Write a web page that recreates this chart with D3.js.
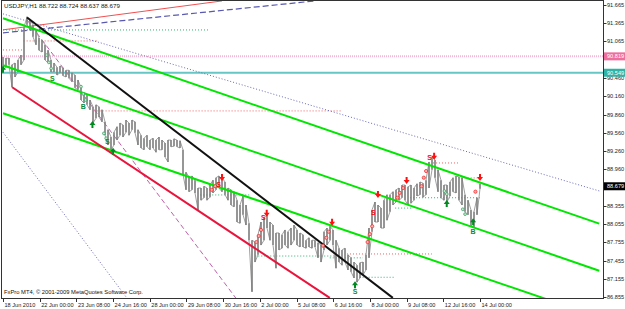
<!DOCTYPE html>
<html>
<head>
<meta charset="utf-8">
<script src="https://cdn.jsdelivr.net/npm/d3@7"></script>
<style>
  body { margin: 0; background: #fff; }
  svg text { font-family: "Liberation Sans", Arial, sans-serif; }
</style>
</head>
<body>
<div id="vis-container"></div>
<script>
// chart texts
var titleText = "USDJPY,H1  88.722 88.724 88.637 88.679"
var copyText = "FxPro MT4, \u00a9 2001-2009 MetaQuotes Software Corp."

// time axis: one label every 32 H1 bars
var timeLabels = ["18 Jun 2010","22 Jun 00:00","23 Jun 08:00","24 Jun 16:00","28 Jun 00:00",
  "29 Jun 08:00","30 Jun 16:00","2 Jul 00:00","5 Jul 08:00","6 Jul 16:00","8 Jul 00:00",
  "9 Jul 08:00","12 Jul 16:00","14 Jul 00:00"]
var barsPerLabel = 32
var lastBar = 416

// price axis (labels hidden under the price tags are left out)
var priceTicks = [91.665,91.365,91.065,90.460,90.160,89.860,89.560,89.260,88.960,
  88.355,88.055,87.755,87.455,87.155,86.855]

// price path, sampled evenly from first to last bar (high / low)
var highs = [90.81,90.79,90.79,90.68,90.71,90.76,90.84,91.30,91.47,91.42,
  91.34,91.25,91.12,91.09,91.01,90.92,90.76,90.71,90.64,90.66,
  90.63,90.59,90.59,90.55,90.51,90.43,90.30,90.22,90.18,90.10,
  89.99,90.02,89.99,89.94,89.74,89.61,89.49,89.57,89.66,89.72,
  89.69,89.77,89.72,89.77,89.74,89.61,89.52,89.47,89.52,89.44,
  89.47,89.44,89.49,89.44,89.39,89.44,89.44,89.46,89.44,89.43,
  89.28,88.91,88.83,88.85,88.78,88.65,88.65,88.68,88.65,88.70,
  88.78,88.82,88.85,88.82,88.75,88.65,88.62,88.59,88.45,88.37,
  88.52,88.37,88.07,87.79,87.76,87.88,88.09,88.16,88.21,88.09,
  88.04,87.91,87.91,87.88,87.96,87.93,87.99,88.04,87.96,87.91,
  87.88,87.79,87.83,87.79,87.79,87.75,87.71,87.93,87.99,88.02,
  87.96,87.79,87.66,87.63,87.66,87.55,87.50,87.43,87.38,87.42,
  87.43,87.55,87.99,88.29,88.42,88.37,88.32,88.45,88.54,88.54,
  88.59,88.62,88.65,88.70,88.70,88.67,88.70,88.65,88.72,88.75,
  88.73,88.78,89.08,89.16,89.11,88.95,88.78,88.70,88.70,88.75,
  88.82,88.85,88.83,88.82,88.54,88.45,88.29,88.26,88.49,88.72]
var lows = [90.59,90.64,90.68,90.31,90.48,90.56,90.68,90.76,91.34,91.25,
  91.14,91.01,90.92,90.89,90.76,90.71,90.56,90.56,90.51,90.55,
  90.50,90.48,90.46,90.40,90.30,90.27,90.10,90.05,90.02,89.94,
  89.72,89.80,89.82,89.74,89.52,89.36,89.28,89.36,89.44,89.52,
  89.49,89.57,89.52,89.61,89.56,89.36,89.31,89.28,89.33,89.28,
  89.31,89.24,89.28,89.28,89.16,89.08,89.33,89.34,89.33,89.31,
  88.87,88.62,88.59,88.62,88.57,88.29,88.45,88.49,88.45,88.50,
  88.57,88.62,88.65,88.59,88.54,88.45,88.37,88.34,88.09,88.07,
  88.21,88.04,87.79,86.94,87.43,87.55,87.71,87.79,87.99,87.79,
  87.71,87.33,87.63,87.66,87.71,87.66,87.71,87.79,87.71,87.68,
  87.68,87.66,87.68,87.66,87.68,87.50,87.43,87.63,87.71,87.79,
  87.71,87.33,87.43,87.38,87.43,87.30,87.27,87.17,87.10,87.17,
  87.22,87.30,87.50,87.93,88.09,88.09,87.99,87.99,88.12,88.26,
  88.37,88.42,88.45,88.49,88.45,88.37,88.40,88.45,88.52,88.54,
  88.50,88.54,88.65,88.95,88.82,88.59,88.49,88.45,88.42,88.52,
  88.59,88.57,88.45,88.37,88.26,88.21,88.02,88.01,88.21,88.64]

// drawn objects as [bar, price] pairs
var greenChannel = [[[0,91.446],[520,88.063]], [[0,90.672],[520,87.288]], [[0,89.881],[520,86.522]]]
var blackTrend = [[21,91.46],[340,86.84]]
var redTrend = [[8,90.31],[285,86.84]]
var redThin = [[0,91.256],[191,91.732]]
var blueDashed = [[0,91.206],[272,91.732]]
var blueDotted = [[[0,91.519],[520,88.602]], [[0,89.568],[108,86.839]]]
var magentaDashed = [[21,91.418],[203,86.839]]

var pinkLevel = 90.819
var cyanLevel = 90.549
var lastPrice = 88.679

// short horizontal levels [price, fromBar, toBar]
var redLevels = [[90.924,0,17],[91.073,18,82],[89.920,79,296],[89.063,375,398],[88.816,400,416],[87.564,300,374]]
var greenLevels = [[91.254,0,180],[88.536,172,215],[87.53,220,290],[87.50,285,314],[87.18,311,342],[88.49,355,416],[88.32,342,357]]

// signals [bar, price]
var sellArrows = [[191,88.80],[230,88.21],[287,88.06],[327,88.52],[352,88.75],[376,89.15],[416,88.80]]
var buyArrows = [[0,90.63],[78,89.72],[96,89.28],[307,87.08],[410,88.12],[387,88.42]]
var sellMarks = [["S",188,88.70],["S",227,88.16],["S",323,88.24],["S",372,89.16]]
var buyMarks = [["S",43,90.446],["B",70,89.985],["S",91,89.41],["S",307,86.94],["B",410,87.94]]
var redDots = [[182,88.62],[185,88.68],[221,87.76],[223,87.86],[225,87.96],[279,87.70],[282,87.83],
  [284,87.93],[318,87.76],[320,87.89],[322,88.02],[344,88.49],[346,88.57],[349,88.65],[365,88.68],
  [367,88.82],[369,88.93],[412,88.59]]
var greenDots = [[38,90.84],[40,90.72],[42,90.62],[68,90.32],[70,90.20],[72,90.10],[88,89.55],
  [90,89.47],[385,88.60],[387,88.55],[401,88.30],[403,88.22]]

var W = 625, H = 309
var plot = { left: 2, right: 603, top: 1, bottom: 298 }

var x = d3.scaleLinear().domain([0, lastBar]).range([3, 480])
var y = d3.scaleLinear().domain([86.855, 91.665]).range([297, 5])

var svg = d3.select('#vis-container').append('svg')
    .attr('width', W)
    .attr('height', H)

svg.append('rect').attr('width', W).attr('height', H).attr('fill', '#fff')

svg.append('clipPath').attr('id', 'clip')
  .append('rect')
    .attr('x', plot.left).attr('y', plot.top)
    .attr('width', plot.right - plot.left).attr('height', plot.bottom - plot.top)

var g = svg.append('g').attr('clip-path', 'url(#clip)')

function seg(sel, pts, color, width, dash) {
  sel.append('line')
    .attr('x1', x(pts[0][0])).attr('y1', y(pts[0][1]))
    .attr('x2', x(pts[1][0])).attr('y2', y(pts[1][1]))
    .attr('stroke', color)
    .attr('stroke-width', width)
    .attr('stroke-dasharray', dash || null)
}

// full width levels
g.append('line')
  .attr('x1', plot.left).attr('x2', plot.right)
  .attr('y1', y(pinkLevel)).attr('y2', y(pinkLevel))
  .attr('stroke', '#f3b8d6').attr('stroke-width', 2).attr('stroke-dasharray', '1,1')
g.append('line')
  .attr('x1', plot.left).attr('x2', plot.right)
  .attr('y1', y(cyanLevel)).attr('y2', y(cyanLevel))
  .attr('stroke', '#66c6c6').attr('stroke-width', 2)

// short dotted levels
redLevels.forEach(function (d) { seg(g, [[d[1], d[0]], [d[2], d[0]]], '#f06060', 1, '1,2') })
greenLevels.forEach(function (d) { seg(g, [[d[1], d[0]], [d[2], d[0]]], '#30b070', 1, '1,2') })

// trend lines
seg(g, redThin, '#f05050', 1)
seg(g, blueDashed, '#5858b0', 1.2, '6,3')
blueDotted.forEach(function (d) { seg(g, d, '#6a6ab8', 1, '1,2') })
seg(g, magentaDashed, '#c060a8', 1, '5,3')

// price path
var hl = highs.map(function (h, i) { return { bar: i * lastBar / (highs.length - 1), hi: h, lo: lows[i] } })
var zig = []
hl.forEach(function (d, i) {
  if (i % 2) { zig.push([x(d.bar), y(d.lo)]); zig.push([x(d.bar), y(d.hi)]) }
  else { zig.push([x(d.bar), y(d.hi)]); zig.push([x(d.bar), y(d.lo)]) }
})
g.append('path')
  .attr('d', d3.line()(zig))
  .attr('fill', 'none')
  .attr('stroke', '#a0a0a0')
  .attr('stroke-width', 1)
g.selectAll('.bar')
    .data(hl)
    .enter()
  .append('line')
    .attr('class', 'bar')
    .attr('x1', function (d) { return x(d.bar) })
    .attr('x2', function (d) { return x(d.bar) })
    .attr('y1', function (d) { return y(d.hi) })
    .attr('y2', function (d) { return y(d.lo) })
    .attr('stroke', '#777')
    .attr('stroke-width', 1.3)

// channel and main trend lines on top
greenChannel.forEach(function (d) { seg(g, d, '#00e600', 2) })
seg(g, blackTrend, '#111', 2)
seg(g, redTrend, '#e8143c', 2)

// setup dots
g.selectAll('.rdot').data(redDots).enter().append('circle')
  .attr('cx', function (d) { return x(d[0]) }).attr('cy', function (d) { return y(d[1]) })
  .attr('r', 1.6).attr('fill', '#ffb0b0').attr('stroke', '#f03030').attr('stroke-width', 0.8)
g.selectAll('.gdot').data(greenDots).enter().append('circle')
  .attr('cx', function (d) { return x(d[0]) }).attr('cy', function (d) { return y(d[1]) })
  .attr('r', 1.4).attr('fill', '#c8f0c8').attr('stroke', '#40a070').attr('stroke-width', 0.8)

// arrows
function arrow(cx, cy, up) {
  var s = up ? -1 : 1
  return 'M' + (cx - 1) + ',' + (cy - 5 * s) + 'h2v' + (3 * s) + 'h2l-3,' + (4 * s) + 'l-3,' + (-4 * s) + 'h2z'
}
g.selectAll('.sell').data(sellArrows).enter().append('path')
  .attr('d', function (d) { return arrow(x(d[0]), y(d[1]), false) })
  .attr('fill', '#ff1010')
g.selectAll('.buy').data(buyArrows).enter().append('path')
  .attr('d', function (d) { return arrow(x(d[0]), y(d[1]), true) })
  .attr('fill', '#008a20')

g.selectAll('.smark').data(sellMarks).enter().append('text')
  .attr('x', function (d) { return x(d[1]) }).attr('y', function (d) { return y(d[2]) })
  .attr('dy', '0.35em').attr('text-anchor', 'middle')
  .style('font-size', '7px').style('font-weight', 'bold')
  .attr('fill', '#f01010')
  .text(function (d) { return d[0] })
g.selectAll('.bmark').data(buyMarks).enter().append('text')
  .attr('x', function (d) { return x(d[1]) }).attr('y', function (d) { return y(d[2]) })
  .attr('dy', '0.35em').attr('text-anchor', 'middle')
  .style('font-size', '7px').style('font-weight', 'bold')
  .attr('fill', '#108a30')
  .text(function (d) { return d[0] })

// frame
svg.append('rect')
  .attr('x', plot.left - 0.5).attr('y', plot.top - 0.5)
  .attr('width', plot.right - plot.left + 1).attr('height', plot.bottom - plot.top + 1)
  .attr('fill', 'none').attr('stroke', '#333').attr('stroke-width', 1)

// price axis
var yAx = svg.append('g')
yAx.selectAll('line').data(priceTicks).enter().append('line')
  .attr('x1', plot.right + 0.5).attr('x2', plot.right + 3.5)
  .attr('y1', function (d) { return Math.round(y(d)) + 0.5 })
  .attr('y2', function (d) { return Math.round(y(d)) + 0.5 })
  .attr('stroke', '#333')
yAx.selectAll('text').data(priceTicks).enter().append('text')
  .attr('x', 607).attr('y', function (d) { return y(d) })
  .attr('dy', '0.35em')
  .style('font-size', '5.6px')
  .attr('fill', '#222')
  .text(function (d) { return d.toFixed(3) })

function priceTag(v, bg) {
  var t = svg.append('g')
  t.append('rect')
    .attr('x', plot.right + 1).attr('y', y(v) - 4)
    .attr('width', 22).attr('height', 8)
    .attr('fill', bg)
  t.append('text')
    .attr('x', 607).attr('y', y(v)).attr('dy', '0.35em')
    .style('font-size', '5.6px').attr('fill', '#fff')
    .text(v.toFixed(3))
}
priceTag(pinkLevel, '#ee6f9c')
priceTag(cyanLevel, '#2fb3a6')
priceTag(lastPrice, '#000')

// time axis
var tAx = svg.append('g')
tAx.selectAll('line').data(timeLabels).enter().append('line')
  .attr('x1', function (d, i) { return Math.round(x(i * barsPerLabel)) + 0.5 })
  .attr('x2', function (d, i) { return Math.round(x(i * barsPerLabel)) + 0.5 })
  .attr('y1', plot.bottom).attr('y2', plot.bottom + 4)
  .attr('stroke', '#333')
tAx.selectAll('text').data(timeLabels).enter().append('text')
  .attr('x', function (d, i) { return x(i * barsPerLabel) + 1.5 })
  .attr('y', 307)
  .style('font-size', '5.6px')
  .attr('fill', '#222')
  .text(function (d) { return d })

// title and copyright
svg.append('text')
  .attr('x', 4).attr('y', 8)
  .style('font-size', '6.2px')
  .attr('fill', '#111')
  .text(titleText)
svg.append('text')
  .attr('x', 4).attr('y', 294)
  .style('font-size', '5.8px')
  .attr('fill', '#111')
  .text(copyText)
</script>
</body>
</html>
